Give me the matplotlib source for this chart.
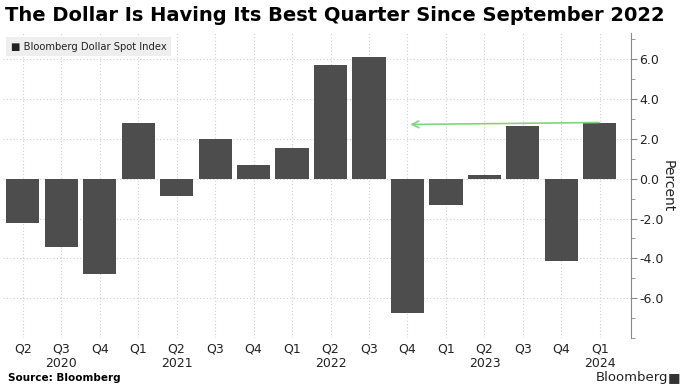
import matplotlib.pyplot as plt
from matplotlib.ticker import MultipleLocator

# ---------------------------------------------------------------------------
# Data: quarterly change in the Bloomberg Dollar Spot Index (percent)
# ---------------------------------------------------------------------------
quarters = ["Q2", "Q3", "Q4", "Q1", "Q2", "Q3", "Q4", "Q1",
            "Q2", "Q3", "Q4", "Q1", "Q2", "Q3", "Q4", "Q1"]
values = [-2.2, -3.45, -4.8, 2.8, -0.85, 2.0, 0.7, 1.55,
          5.7, 6.1, -6.75, -1.3, 0.2, 2.65, -4.15, 2.8]
year_labels = ["2020", "2021", "2022", "2023", "2024"]
year_pos = [1, 4, 8, 12, 15]

bar_color = "#4d4d4d"
grid_color = "#cfcfcf"

fig = plt.figure(figsize=(6.87, 3.86), dpi=100)
ax = fig.add_axes([0.005, 0.124, 0.913, 0.79])

x = list(range(len(values)))
ax.bar(x, values, width=0.86, color=bar_color, zorder=3)

ax.set_xlim(-0.5, 15.8)
ax.set_ylim(-8.0, 7.3)

# right-hand y axis
ax.yaxis.tick_right()
ax.yaxis.set_label_position("right")
ax.yaxis.set_minor_locator(MultipleLocator(1))
ax.set_yticks([-6, -4, -2, 0, 2, 4, 6])
ax.set_yticklabels([f"{v:.1f}" for v in [-6, -4, -2, 0, 2, 4, 6]])
ax.tick_params(axis="y", which="both", color="#888888", labelsize=9,
               labelcolor="#222222", length=4, pad=2)
ax.tick_params(axis="y", which="minor", length=3)
ax.set_ylabel("Percent", rotation=-90, labelpad=8, fontsize=10, color="#222222")

for s in ["left", "top", "bottom"]:
    ax.spines[s].set_visible(False)
ax.spines["right"].set_color("#888888")

# x axis: quarters, with year labels beneath
ax.set_xticks(x)
ax.set_xticklabels(quarters, fontsize=9, color="#222222")
ax.tick_params(axis="x", length=0, pad=3)
for p, y in zip(year_pos, year_labels):
    ax.text(p, -0.062, y, transform=ax.get_xaxis_transform(), ha="center",
            va="top", fontsize=9, color="#222222")

ax.grid(True, axis="both", color=grid_color, linestyle=(0, (1, 2)), linewidth=0.8,
        zorder=0)

# green arrow from latest quarter back to Q4 2022
ax.annotate("", xy=(10.0, 2.72), xytext=(15.05, 2.82),
            arrowprops=dict(arrowstyle="->", color="#7fd67f", lw=1.2,
                            mutation_scale=12), zorder=4)

# legend box
ax.text(0.012, 0.955, "\u25a0 Bloomberg Dollar Spot Index", transform=ax.transAxes,
        fontsize=7.2, color="#222222", va="center", ha="left",
        bbox=dict(boxstyle="square,pad=0.45", fc="#eeeeee", ec="none"), zorder=5)

fig.text(0.008, 0.985, "The Dollar Is Having Its Best Quarter Since September 2022",
         fontsize=14, fontweight="bold", va="top", ha="left")
fig.text(0.012, 0.008, "Source: Bloomberg", fontsize=7.5, fontweight="bold",
         va="bottom", ha="left")
fig.text(0.972, 0.006, "Bloomberg", fontsize=9.5, va="bottom", ha="right",
         color="#222222")
fig.text(0.99, 0.006, "\u25a0", fontsize=9.5, va="bottom", ha="right",
         color="#333333")

fig.savefig("out.png", dpi=100)
